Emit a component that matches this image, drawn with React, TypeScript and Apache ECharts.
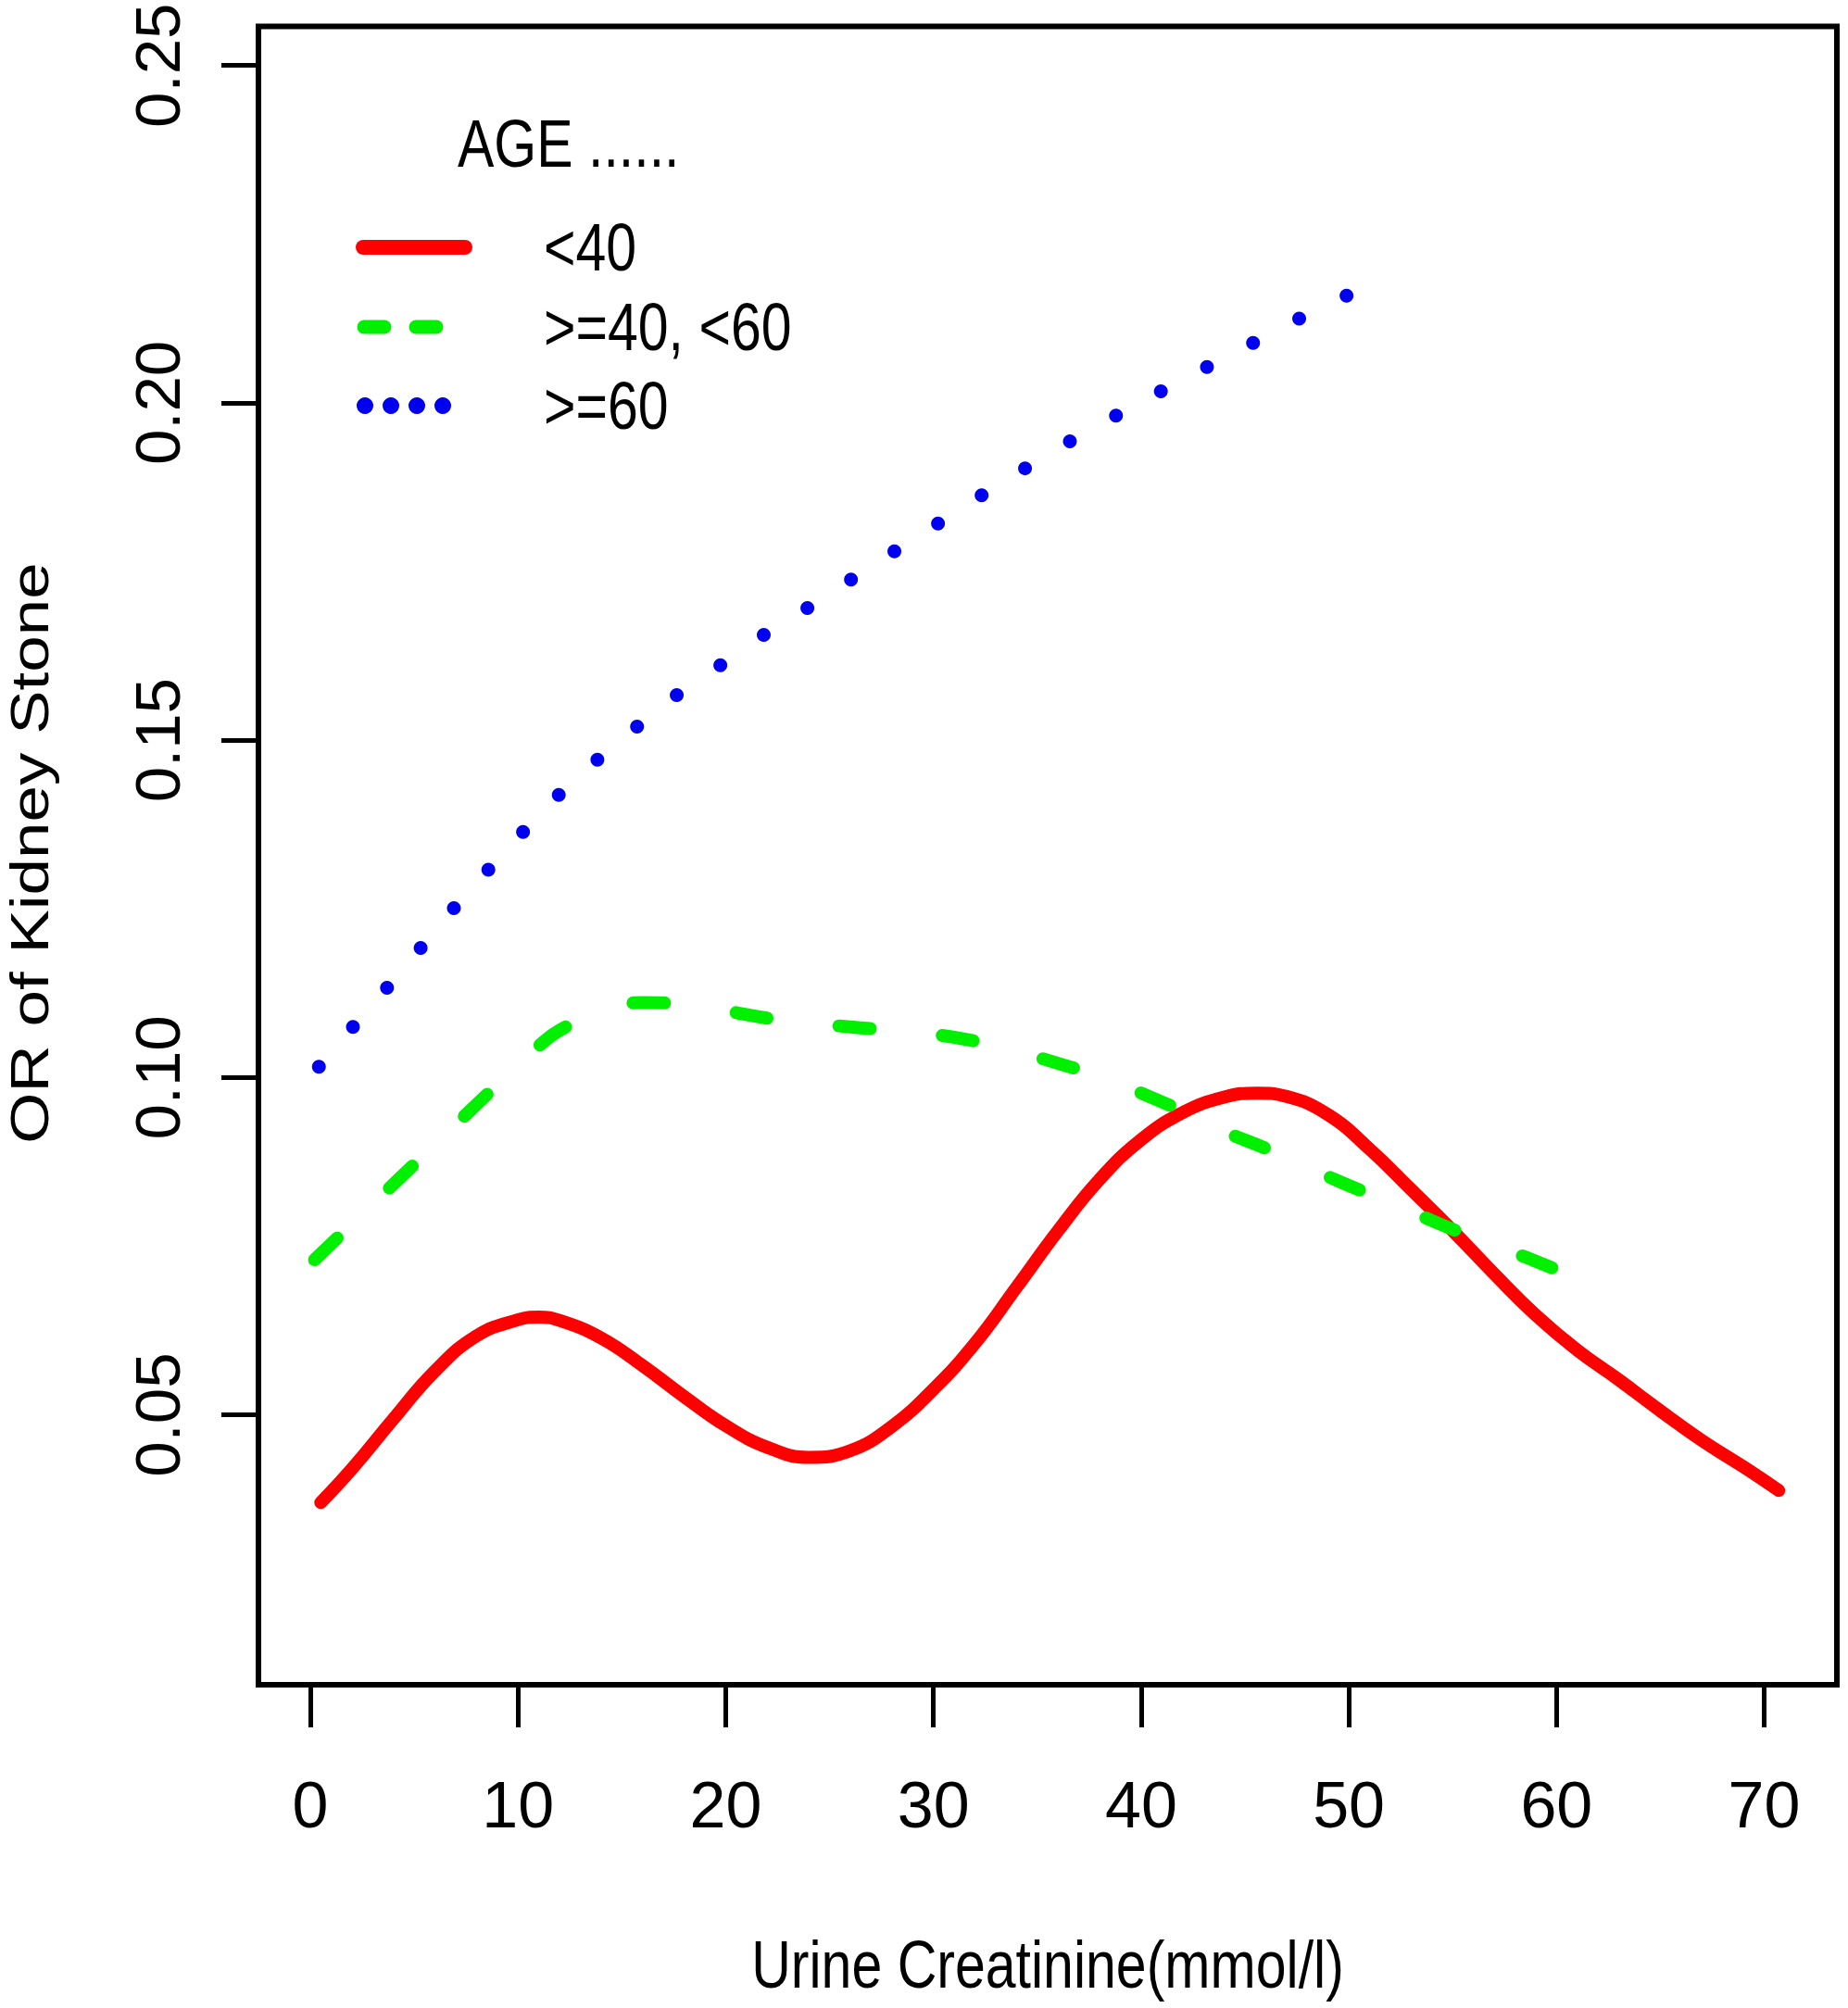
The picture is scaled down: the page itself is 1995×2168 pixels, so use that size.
import React, { useEffect, useRef } from "react";
import * as echarts from "echarts";

// ---- data ----
const xTicks = [0, 10, 20, 30, 40, 50, 60, 70];
const yTicks = [0.05, 0.1, 0.15, 0.2, 0.25];

const seriesNames = ["<40", ">=40, <60", ">=60"];
const legendTitle = "AGE ......";
const xTitle = "Urine Creatinine(mmol/l)";
const yTitle = "OR of Kidney Stone";

const redX = [0.5, 2, 4, 6, 8, 10, 11, 12, 14, 16, 18, 20, 22, 24, 26, 28, 30, 32, 34, 36, 38, 40, 42, 44, 45.6, 47, 49, 51, 53, 55, 57, 59, 61, 63, 65, 67, 69, 70.7];
const redY = [0.037, 0.042, 0.0494, 0.0565, 0.0617, 0.0641, 0.0645, 0.064, 0.0614, 0.0573, 0.0527, 0.0484, 0.0452, 0.0437, 0.0447, 0.0483, 0.0538, 0.0606, 0.0689, 0.0773, 0.0849, 0.0908, 0.0948, 0.0971, 0.0977, 0.0972, 0.0945, 0.0894, 0.0834, 0.0773, 0.0709, 0.0648, 0.0596, 0.0552, 0.0506, 0.0462, 0.0423, 0.0388];

const greenX = [0.2, 2, 4, 6, 8, 10, 11, 12, 14, 16, 18, 20, 22, 24, 26, 28, 30, 32, 34, 36, 38, 40, 42, 44, 46, 48, 50, 52, 54, 56, 58, 60.4];
const greenY = [0.073, 0.0783, 0.0842, 0.0901, 0.096, 0.1019, 0.1047, 0.107, 0.1099, 0.1111, 0.1109, 0.1099, 0.1088, 0.1081, 0.1075, 0.107, 0.1064, 0.1054, 0.1039, 0.1021, 0.1002, 0.0977, 0.095, 0.092, 0.0895, 0.0867, 0.084, 0.0815, 0.0788, 0.0763, 0.074, 0.071];

const blueX = [0.41, 2.05, 3.69, 5.31, 6.91, 8.57, 10.24, 11.96, 13.82, 15.73, 17.64, 19.74, 21.83, 23.93, 26.03, 28.12, 30.22, 32.32, 34.41, 36.57, 38.79, 40.95, 43.17, 45.39, 47.61, 49.89];
const blueY = [0.1016, 0.1075, 0.1133, 0.1192, 0.1251, 0.1308, 0.1364, 0.1419, 0.1471, 0.152, 0.1567, 0.1611, 0.1656, 0.1696, 0.1738, 0.178, 0.1821, 0.1863, 0.1903, 0.1943, 0.1981, 0.2017, 0.2053, 0.2089, 0.2125, 0.2159];

const RED = "#ff0000";
const GREEN = "#00f000";
const BLUE = "#0000f0";

const zip = (xs: number[], ys: number[]) => xs.map((x, i) => [x, ys[i]]);

const SANS = '"Liberation Sans", Arial, Helvetica, sans-serif';

function textEl(text: string, x: number, y: number, align: string, extra: any = {}) {
  return {
    type: "text",
    x,
    y,
    scaleX: 0.82,
    silent: true,
    style: {
      text,
      fontSize: 72,
      fontFamily: SANS,
      fill: "#000",
      textAlign: align,
      textVerticalAlign: "middle",
      align,
      verticalAlign: "middle",
    },
    ...extra,
  };
}

export default function App() {
  const ref = useRef<HTMLDivElement>(null);

  useEffect(() => {
    if (!ref.current) return;
    const chart = echarts.init(ref.current, undefined, { renderer: "svg" });

    const option: any = {
      animation: false,
      backgroundColor: "#ffffff",
      grid: {
        left: 279,
        top: 28.5,
        width: 1704,
        height: 1790.5,
        show: true,
        borderColor: "#000",
        borderWidth: 6,
        backgroundColor: "transparent",
        containLabel: false,
      },
      xAxis: {
        type: "value",
        min: -2.5,
        max: 73.5,
        axisLine: { show: false, onZero: false },
        splitLine: { show: false },
        axisTick: {
          show: true,
          customValues: xTicks,
          length: 46,
          lineStyle: { color: "#000", width: 5 },
        },
        axisLabel: {
          customValues: xTicks,
          margin: 95,
          fontSize: 70,
          fontFamily: SANS,
          color: "#000",
          formatter: (v: number) => String(v),
        },
      },
      yAxis: {
        type: "value",
        min: 0.01,
        max: 0.2558,
        axisLine: { show: false, onZero: false },
        splitLine: { show: false },
        axisTick: {
          show: true,
          customValues: yTicks,
          length: 40,
          lineStyle: { color: "#000", width: 5 },
        },
        axisLabel: {
          customValues: yTicks,
          rotate: 90,
          margin: 74.5,
          fontSize: 69,
          fontFamily: SANS,
          color: "#000",
          formatter: (v: number) => v.toFixed(2),
        },
      },
      series: [
        {
          name: seriesNames[0],
          type: "line",
          data: zip(redX, redY),
          smooth: 0.45,
          showSymbol: false,
          lineStyle: { color: RED, width: 14, cap: "round", join: "round" },
          z: 3,
        },
        {
          name: seriesNames[1],
          type: "line",
          data: zip(greenX, greenY),
          smooth: 0.45,
          showSymbol: false,
          lineStyle: { color: GREEN, width: 14, type: [34, 78], cap: "round", join: "round" },
          z: 4,
        },
        {
          name: seriesNames[2],
          type: "line",
          data: zip(blueX, blueY),
          showSymbol: true,
          showAllSymbol: true,
          symbol: "circle",
          symbolSize: 15,
          itemStyle: { color: BLUE, borderWidth: 0 },
          lineStyle: { width: 0, opacity: 0 },
          z: 2,
        },
      ],
      graphic: [
        textEl(xTitle, 1131, 2121, "center"),
        {
          type: "text",
          x: 32,
          y: 921,
          rotation: Math.PI / 2,
          scaleY: 0.82,
          silent: true,
          style: {
            text: yTitle,
            fontSize: 71,
            fontFamily: SANS,
            fill: "#000",
            textAlign: "center",
            textVerticalAlign: "middle",
            align: "center",
            verticalAlign: "middle",
          },
        },
        textEl(legendTitle, 494, 155, "left"),
        {
          type: "line",
          silent: true,
          shape: { x1: 392, y1: 267, x2: 502, y2: 267 },
          style: { stroke: RED, lineWidth: 16, lineCap: "round" },
        },
        {
          type: "line",
          silent: true,
          shape: { x1: 393, y1: 353, x2: 415, y2: 353 },
          style: { stroke: GREEN, lineWidth: 15, lineCap: "round" },
        },
        {
          type: "line",
          silent: true,
          shape: { x1: 449, y1: 353, x2: 471, y2: 353 },
          style: { stroke: GREEN, lineWidth: 15, lineCap: "round" },
        },
        ...[394, 422, 450, 478].map((cx) => ({
          type: "circle",
          silent: true,
          shape: { cx, cy: 438, r: 9 },
          style: { fill: BLUE },
        })),
        textEl(seriesNames[0], 587, 267, "left"),
        textEl(seriesNames[1], 587, 353, "left"),
        textEl(seriesNames[2], 587, 438, "left"),
      ],
    };

    chart.setOption(option);
    return () => chart.dispose();
  }, []);

  return (
    <div
      ref={ref}
      style={{ position: "absolute", left: 0, top: 0, width: 1995, height: 2168, background: "#fff" }}
    />
  );
}
